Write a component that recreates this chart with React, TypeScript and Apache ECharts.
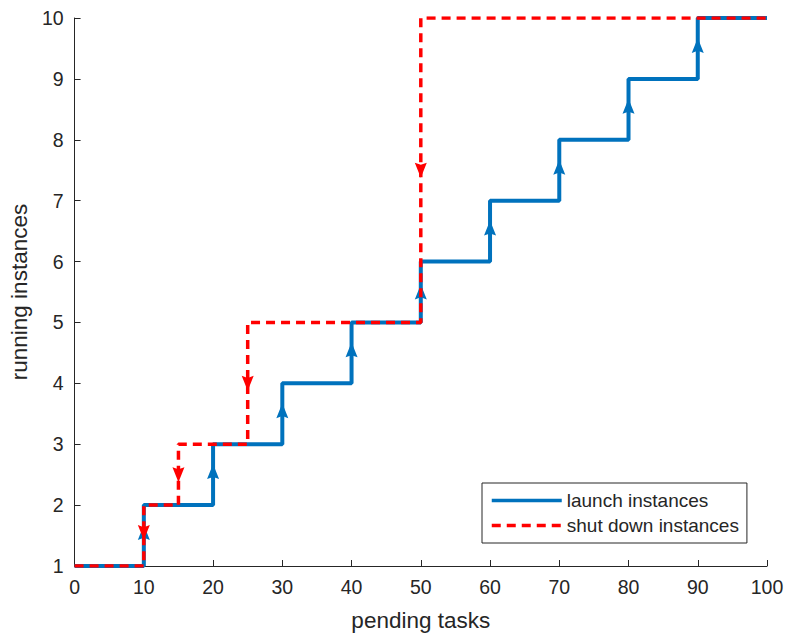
import React, { useEffect, useRef } from "react";
import * as echarts from "echarts";

const launchX = [0, 10, 20, 30, 40, 50, 60, 70, 80, 90, 100];
const launchY = [1, 2, 3, 4, 5, 6, 7, 8, 9, 10, 10];
const shutX = [0, 10, 15, 25, 50, 100];
const shutY = [1, 2, 3, 5, 10, 10];
const launchArrowX = [10, 20, 30, 40, 50, 60, 70, 80, 90];
const launchArrowY = [1.55, 2.55, 3.55, 4.55, 5.5, 6.55, 7.55, 8.55, 9.55];
const shutArrowX = [10, 15, 25, 50];
const shutArrowY = [1.55, 2.5, 4.0, 7.5];

const BLUE = "#0072BD";
const RED = "#FF0000";
const FONT = "Liberation Sans";
const ARROW = "path://M5 0 L10 14 L5 12 L0 14 Z";

export default function App() {
  const ref = useRef<HTMLDivElement>(null);
  useEffect(() => {
    const chart = echarts.init(ref.current!, undefined, { renderer: "svg" });
    const axisCommon = {
      axisLine: { show: true, lineStyle: { color: "#262626", width: 1 } },
      axisTick: { show: true, inside: true, length: 6, lineStyle: { color: "#262626" } },
      splitLine: { show: false },
      axisLabel: { color: "#262626", fontSize: 19.5, fontFamily: FONT, margin: 11 },
      nameTextStyle: { color: "#262626", fontSize: 22.5, fontFamily: FONT },
    };
    chart.setOption({
      animation: false,
      backgroundColor: "#ffffff",
      grid: { left: 73, right: 20, top: 18, bottom: 74 },
      xAxis: {
        type: "value",
        min: 0,
        max: 100,
        interval: 10,
        name: "pending tasks",
        nameLocation: "middle",
        nameGap: 43,
        ...axisCommon,
      },
      yAxis: {
        type: "value",
        min: 1,
        max: 10,
        interval: 1,
        name: "running instances",
        nameLocation: "middle",
        nameGap: 41,
        ...axisCommon,
      },
      legend: {
        data: ["launch instances", "shut down instances"],
        orient: "vertical",
        left: 482,
        top: 483,
        itemWidth: 70,
        itemHeight: 14,
        itemGap: 6,
        padding: [8, 8, 8, 8],
        borderColor: "#262626",
        borderWidth: 1,
        backgroundColor: "#ffffff",
        itemStyle: { opacity: 0 },
        lineStyle: { width: 3.5 },
        textStyle: { color: "#262626", fontSize: 19, fontFamily: FONT },
      },
      series: [
        {
          name: "launch instances",
          type: "line",
          step: "end",
          data: launchX.map((x, i) => [x, launchY[i]]),
          showSymbol: false,
          symbol: "none",
          lineStyle: { color: BLUE, width: 4 },
          itemStyle: { color: BLUE },
          z: 2,
        },
        {
          name: "launch arrows",
          type: "scatter",
          data: launchArrowX.map((x, i) => [x, launchArrowY[i]]),
          symbol: ARROW,
          symbolSize: [12, 15],
          itemStyle: { color: BLUE, opacity: 1 },
          z: 3,
        },
        {
          name: "shut down instances",
          type: "line",
          step: "end",
          data: shutX.map((x, i) => [x, shutY[i]]),
          showSymbol: false,
          symbol: "none",
          lineStyle: { color: RED, width: 3.5, type: [9, 6] },
          itemStyle: { color: RED },
          z: 4,
        },
        {
          name: "shut arrows",
          type: "scatter",
          data: shutArrowX.map((x, i) => [x, shutArrowY[i]]),
          symbol: ARROW,
          symbolRotate: 180,
          symbolSize: [12, 15],
          itemStyle: { color: RED, opacity: 1 },
          z: 5,
        },
      ],
    });
    return () => chart.dispose();
  }, []);
  return (
    <div
      ref={ref}
      style={{ position: "fixed", left: 0, top: 0, width: 787, height: 640 }}
    />
  );
}
